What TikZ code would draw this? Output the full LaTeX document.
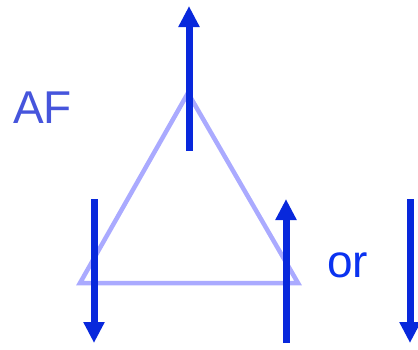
\documentclass[tikz,border=0pt]{standalone}
\usepackage{fontspec}
\setmainfont{Liberation Sans}
\usetikzlibrary{arrows.meta}
\definecolor{arrowblue}{RGB}{8,40,220}
\definecolor{trilav}{RGB}{170,170,255}
\definecolor{afcol}{RGB}{70,85,220}
\definecolor{orcol}{RGB}{10,50,240}
\tikzset{
  spin/.style={draw=arrowblue, line width=7pt, -{Triangle[length=21pt,width=20pt]}},
  tri/.style={draw=trilav, line width=4.5pt, line join=miter},
  lbl/.style={inner sep=0pt, anchor=base west, font=\fontsize{46}{50}\selectfont}
}
\begin{document}
\begin{tikzpicture}[x=1pt,y=-1pt]
\useasboundingbox (0,0) rectangle (418,349);
\coordinate (t) at (188,93);
\coordinate (l) at (80,283);
\coordinate (r) at (298,283);
\draw[tri] (t) -- (l) -- (r) -- cycle;
\coordinate (a1s) at (189,151);
\coordinate (a1e) at (189,6);
\coordinate (a2s) at (94,199);
\coordinate (a2e) at (94,343);
\coordinate (a3s) at (286,343);
\coordinate (a3e) at (286,199);
\coordinate (a4s) at (410,199);
\coordinate (a4e) at (410,343);
\draw[spin] (a1s) -- (a1e);
\draw[spin] (a2s) -- (a2e);
\draw[spin] (a3s) -- (a3e);
\draw[spin] (a4s) -- (a4e);
\node[lbl, text=afcol] (af) at (13,123) {AF};
\node[lbl, text=orcol] (or) at (327,277) {or};
\end{tikzpicture}
\end{document}
